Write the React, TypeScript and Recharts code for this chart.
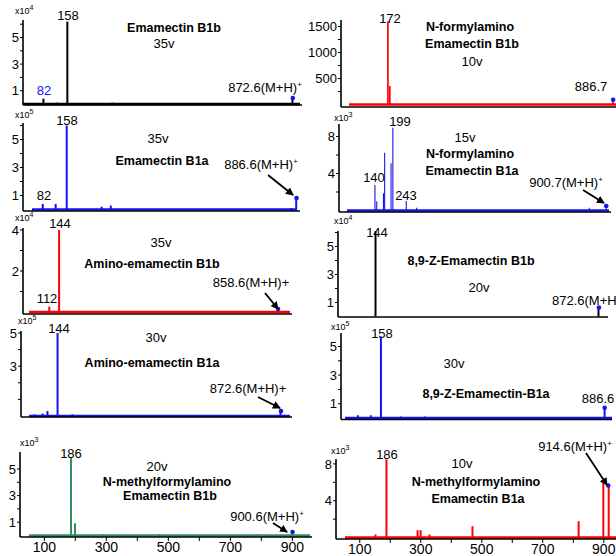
import React from 'react'
import { BarChart, Bar, XAxis, YAxis, ReferenceLine, ReferenceDot } from 'recharts'

// product-ion spectra, m/z and intensity (in units of the axis multiplier)
const emaB1bMz = [82, 124, 158, 301, 872.6]
const emaB1bInt = [0.4, 0.1, 6.2, 0.1, 0.45]

const formylB1bMz = [172, 178, 886.7]
const formylB1bInt = [1600, 356, 90]

const emaB1aMz = [82, 123, 158, 269, 298, 872, 886.6]
const emaB1aInt = [0.4, 0.4, 6.0, 0.2, 0.28, 0.1, 0.82]

const formylB1aMz = [140, 146, 168, 172, 193, 199, 243, 277, 845, 900.7]
const formylB1aInt = [2.76, 1.0, 1.86, 6.25, 5.1, 8.95, 1.03, 0.3, 0.3, 0.49]

const aminoB1bMz = [112, 144, 858.6]
const aminoB1bInt = [0.26, 4.0, 0.15]

const zB1bMz = [144, 872.6]
const zB1bInt = [6.1, 0.64]

const aminoB1aMz = [69, 95, 111, 144, 193, 872.6]
const aminoB1aInt = [0.1, 0.15, 0.3, 5.0, 0.1, 0.3]

const zB1aMz = [83, 125, 158, 223, 301, 886.6]
const zB1aInt = [0.2, 0.2, 5.7, 0.1, 0.1, 0.72]

const mfB1bMz = [186, 199, 290, 470, 790, 900.6]
const mfB1bInt = [5.9, 0.92, 0.1, 0.1, 0.1, 0.26]

const mfB1aMz = [150, 186, 288, 298, 327, 468, 816, 897, 914.6]
const mfB1aInt = [0.33, 8.5, 0.8, 0.8, 0.33, 1.23, 1.77, 6.3, 5.65]

// protonated molecule of each spectrum (blue marker)
const precursors = [872.6, 886.7, 886.6, 900.7, 858.6, 872.6, 872.6, 886.6, 900.6, 914.6]

// axis ticks
const ticks1to6 = [1, 2, 3, 4, 5, 6]
const ticks1to5 = [1, 2, 3, 4, 5]
const ticks1to4 = [1, 2, 3, 4]
const ticks2to8 = [2, 4, 6, 8]
const ticks250 = [250, 500, 750, 1000, 1250, 1500]
const oddLabels = [1, 3, 5]
const mzTicks = [100, 200, 300, 400, 500, 600, 700, 800, 900]
const mzLabels = [100, 300, 500, 700, 900]

const FONT = '"Liberation Sans", Arial, sans-serif'
const BLACK = '#000000'
const RED = '#ff0000'
const BLUE = '#1414f0'
const GREEN = '#2f8f5f'
const YW = 34
const TOP = 10

const panels = [
  { mz: emaB1bMz, int: emaB1bInt, color: BLACK, ax: 23, rx: 302, ty: 20, by: 105, y0: 104, k: 13.3, am: 158, ap: 67.7, s: 0.315, base: [23, 300], yt: ticks1to6, yl: oddLabels },
  { mz: formylB1bMz, int: formylB1bInt, color: RED, ax: 341, rx: 616, ty: 20, by: 107, y0: 104.5, k: 0.052, am: 172, ap: 388, s: 0.315, base: [349, 616], yt: ticks250, yl: [500, 1000, 1500] },
  { mz: emaB1aMz, int: emaB1aInt, color: BLUE, ax: 23, rx: 300, ty: 123, by: 211, y0: 209.5, k: 14, am: 158, ap: 67, s: 0.315, base: [32, 297], yt: ticks1to6, yl: oddLabels },
  { mz: formylB1aMz, int: formylB1aInt, color: BLUE, ax: 339, rx: 611, ty: 124, by: 212, y0: 210.5, k: 9.25, am: 140, ap: 375, s: 0.304, base: [347, 609], yt: ticks2to8, yl: [4, 8] },
  { mz: aminoB1bMz, int: aminoB1bInt, color: RED, ax: 23, rx: 292, ty: 228, by: 314, y0: 312, k: 20.5, am: 144, ap: 59, s: 0.3065, base: [29, 290], yt: ticks1to4, yl: [2, 4] },
  { mz: zB1bMz, int: zB1bInt, color: BLACK, ax: 338, rx: 608, ty: 231, by: 317, y0: 316.5, k: 14, am: 144, ap: 376, s: 0.306, base: null, yt: ticks1to6, yl: oddLabels },
  { mz: aminoB1aMz, int: aminoB1aInt, color: BLUE, ax: 21, rx: 292, ty: 331, by: 417, y0: 416, k: 16.6, am: 144, ap: 58, s: 0.306, base: [29, 290], yt: ticks1to5, yl: [3, 5] },
  { mz: zB1aMz, int: zB1aInt, color: BLUE, ax: 341, rx: 612, ty: 333, by: 419.5, y0: 418, k: 14.3, am: 158, ap: 381, s: 0.307, base: [345, 612], yt: ticks1to5, yl: oddLabels },
  { mz: mfB1bMz, int: mfB1bInt, color: GREEN, ax: 20, rx: 312, ty: 452, by: 537, y0: 535.5, k: 13.3, am: 186, ap: 71, s: 0.31, base: [29, 310], yt: ticks1to5, yl: oddLabels, bottom: true },
  { mz: mfB1aMz, int: mfB1aInt, color: RED, ax: 336, rx: 616, ty: 459, by: 539, y0: 537.5, k: 9.2, am: 186, ap: 386, s: 0.305, base: [345, 616], yt: ticks2to8, yl: [4, 8], bottom: true }
]

const Spectrum = ({ p, ion }) => {
  const toMz = (px: number) => p.am + (px - p.ap) / p.s
  const xDomain = [toMz(p.ax), toMz(p.rx)]
  const yDomain = [(p.y0 - p.by) / p.k, (p.y0 - p.ty) / p.k]
  const rows = p.mz.map((m: number, i: number) => ({ mz: m, v: p.int[i] }))
  const ionRow = rows.find(r => r.mz === ion)
  const xh = p.bottom ? 22 : 4
  return (
    <div style={{ position: 'absolute', left: p.ax - YW, top: p.ty - TOP }}>
      <BarChart
        width={p.rx - p.ax + YW}
        height={p.by - p.ty + xh + TOP}
        data={rows}
        margin={{ top: TOP, right: 0, bottom: 0, left: 0 }}
      >
        <XAxis
          dataKey="mz"
          type="number"
          domain={xDomain}
          allowDataOverflow
          height={xh}
          ticks={p.bottom ? mzTicks : []}
          interval={0}
          tickFormatter={v => (mzLabels.includes(v) ? String(v) : '')}
          tick={p.bottom ? { fill: '#000', fontSize: 14, fontFamily: FONT } : false}
          tickLine={p.bottom ? { stroke: '#000' } : false}
          tickSize={4}
          tickMargin={1}
          axisLine={{ stroke: '#000', strokeWidth: 1.6 }}
        />
        <YAxis
          type="number"
          domain={yDomain}
          allowDataOverflow
          width={YW}
          ticks={p.yt}
          interval={0}
          tickFormatter={v => (p.yl.includes(v) ? String(v) : '')}
          tick={{ fill: '#000', fontSize: 13, fontFamily: FONT }}
          tickLine={{ stroke: '#000' }}
          tickSize={3}
          tickMargin={1}
          axisLine={{ stroke: '#000', strokeWidth: 1.6 }}
        />
        {p.base && (
          <ReferenceLine
            segment={[{ x: toMz(p.base[0]), y: 0 }, { x: toMz(p.base[1]), y: 0 }]}
            stroke={p.color}
            strokeWidth={2.5}
            ifOverflow="visible"
          />
        )}
        <Bar dataKey="v" fill={p.color} barSize={2} isAnimationActive={false} />
        {ionRow && (
          <ReferenceDot x={ionRow.mz} y={ionRow.v} r={2.3} fill={BLUE} stroke="none" ifOverflow="visible" />
        )}
      </BarChart>
    </div>
  )
}

const T = ({ x, y, children, bold = false, size = 13, color = '#000', anchor = 'middle' }) => (
  <text
    x={x}
    y={y}
    fill={color}
    fontSize={size}
    fontWeight={bold ? 'bold' : 'normal'}
    fontFamily={FONT}
    textAnchor={anchor}
  >
    {children}
  </text>
)

const Sup = ({ children }) => (
  <tspan dy={-5} fontSize={8}>
    {children}
  </tspan>
)

const Mult = ({ x, y, e }) => (
  <text x={x} y={y} fontSize={9} fontFamily={FONT} fill="#000">
    x10
    <tspan dy={-4} fontSize={7}>
      {e}
    </tspan>
  </text>
)

const Arrow = ({ x1, y1, x2, y2 }) => (
  <line x1={x1} y1={y1} x2={x2} y2={y2} stroke="#000" strokeWidth={1.8} markerEnd="url(#ah)" />
)

const Labels = () => (
  <svg width={616} height={556} style={{ position: 'absolute', left: 0, top: 0 }}>
    <defs>
      <marker id="ah" markerWidth="8" markerHeight="8" refX="7" refY="4" orient="auto" markerUnits="userSpaceOnUse">
        <path d="M0,0 L8,4 L0,8 z" fill="#000" />
      </marker>
    </defs>
    {/* Emamectin B1b */}
    <Mult x={15} y={14} e="4" />
    <T x={68} y={20}>158</T>
    <T x={44} y={95} color={BLUE}>82</T>
    <T x={265} y={92}>872.6(M+H)<Sup>+</Sup></T>
    <T x={174} y={32} bold size={12.5}>Emamectin B1b</T>
    <T x={164} y={48}>35v</T>
    {/* N-formylamino Emamectin B1b */}
    <T x={390} y={23}>172</T>
    <T x={470} y={31} bold size={12.5}>N-formylamino</T>
    <T x={472} y={48} bold size={12.5}>Emamectin B1b</T>
    <T x={472} y={66}>10v</T>
    <T x={591} y={91}>886.7</T>
    {/* Emamectin B1a */}
    <Mult x={15} y={118} e="5" />
    <T x={67} y={125}>158</T>
    <T x={44} y={200}>82</T>
    <T x={158} y={143}>35v</T>
    <T x={162} y={165} bold size={12.5}>Emamectin B1a</T>
    <T x={261} y={169}>886.6(M+H)<Sup>+</Sup></T>
    <Arrow x1={268} y1={175} x2={293} y2={195} />
    {/* N-formylamino Emamectin B1a */}
    <Mult x={334} y={121} e="3" />
    <T x={400} y={126}>199</T>
    <T x={374} y={182}>140</T>
    <T x={406} y={200}>243</T>
    <T x={465} y={142}>15v</T>
    <T x={470} y={158} bold size={12.5}>N-formylamino</T>
    <T x={472} y={175} bold size={12.5}>Emamectin B1a</T>
    <T x={566} y={187}>900.7(M+H)<Sup>+</Sup></T>
    <Arrow x1={583} y1={190} x2={604} y2={203} />
    {/* Amino-emamectin B1b */}
    <Mult x={15} y={221} e="4" />
    <T x={60} y={228}>144</T>
    <T x={47} y={303}>112</T>
    <T x={161} y={247}>35v</T>
    <T x={152} y={268} bold size={12.5}>Amino-emamectin B1b</T>
    <T x={251} y={287}>858.6(M+H)+</T>
    <Arrow x1={265} y1={293} x2={278} y2={309} />
    {/* 8,9-Z-Emamectin B1b */}
    <Mult x={334} y={224} e="4" />
    <T x={377} y={237}>144</T>
    <T x={471} y={265} bold size={12.5}>8,9-Z-Emamectin B1b</T>
    <T x={479} y={292}>20v</T>
    <T x={552} y={305} anchor="start">872.6(M+H)<Sup>+</Sup></T>
    {/* Amino-emamectin B1a */}
    <Mult x={18} y={324} e="5" />
    <T x={59} y={333}>144</T>
    <T x={156} y={342}>30v</T>
    <T x={152} y={367} bold size={12.5}>Amino-emamectin B1a</T>
    <T x={248} y={393}>872.6(M+H)+</T>
    <Arrow x1={258} y1={397} x2={280} y2={408} />
    {/* 8,9-Z-Emamectin-B1a */}
    <Mult x={331} y={330} e="5" />
    <T x={382} y={338}>158</T>
    <T x={454} y={368}>30v</T>
    <T x={486} y={398} bold size={12.5}>8,9-Z-Emamectin-B1a</T>
    <T x={598} y={403}>886.6</T>
    {/* N-methylformylamino Emamectin B1b */}
    <Mult x={20} y={446} e="3" />
    <T x={71} y={458}>186</T>
    <T x={157} y={471}>20v</T>
    <T x={167} y={486} bold size={12.5}>N-methylformylamino</T>
    <T x={170} y={500} bold size={12.5}>Emamectin B1b</T>
    <T x={267} y={521}>900.6(M+H)<Sup>+</Sup></T>
    <Arrow x1={273} y1={523} x2={287} y2={532} />
    {/* N-methylformylamino Emamectin B1a */}
    <Mult x={331} y={454} e="3" />
    <T x={387} y={459}>186</T>
    <T x={462} y={468}>10v</T>
    <T x={476} y={486} bold size={12.5}>N-methylformylamino</T>
    <T x={478} y={503} bold size={12.5}>Emamectin B1a</T>
    <T x={575} y={451}>914.6(M+H)<Sup>+</Sup></T>
    <Arrow x1={586} y1={453} x2={607} y2={485} />
  </svg>
)

export default function App() {
  return (
    <div style={{ position: 'absolute', left: 0, top: 0, width: 616, height: 556, background: '#fff', overflow: 'hidden' }}>
      {panels.map((p, i) => (
        <Spectrum key={i} p={p} ion={precursors[i]} />
      ))}
      <Labels />
    </div>
  )
}
